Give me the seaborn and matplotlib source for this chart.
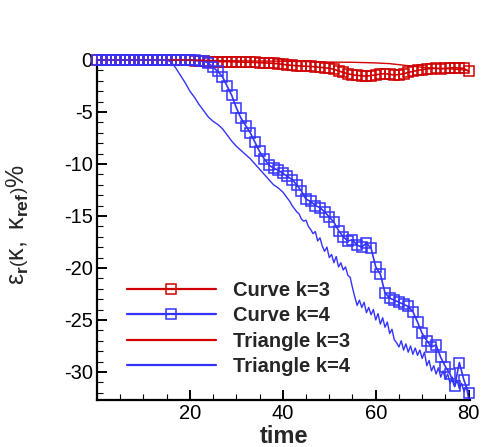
import matplotlib
matplotlib.use("Agg")
import matplotlib.pyplot as plt
from matplotlib.lines import Line2D
from matplotlib.ticker import MultipleLocator
import seaborn as sns

# ---------------- data ----------------
t_curve = list(range(0, 81))

curve_k3 = [0.0, 0.0, 0.0, 0.0, 0.0, 0.0, 0.0, 0.0, 0.0, 0.0,
            0.0, 0.0, 0.0, 0.0, 0.0, 0.0, 0.0, 0.0, 0.0, 0.0,
            -0.02, -0.05, -0.1, -0.12, -0.15, -0.15, -0.16, -0.15, -0.16, -0.17,
            -0.18, -0.2, -0.22, -0.22, -0.24, -0.26, -0.28, -0.3, -0.32, -0.36,
            -0.42, -0.48, -0.52, -0.55, -0.58, -0.6, -0.62, -0.66, -0.7, -0.75,
            -0.8, -0.9, -1.05, -1.2, -1.32, -1.42, -1.48, -1.52, -1.55, -1.5,
            -1.42, -1.36, -1.3, -1.38, -1.44, -1.4, -1.32, -1.2, -1.1, -1.0,
            -0.92, -0.86, -0.82, -0.8, -0.84, -0.8, -0.76, -0.74, -0.78, -0.8,
            -1.1]

curve_k4 = [0.0, 0.0, 0.0, 0.0, 0.0, 0.0, 0.0, 0.0, 0.0, 0.0,
            0.0, 0.0, 0.0, 0.0, 0.0, 0.0, 0.0, 0.0, 0.0, 0.0,
            0.0, 0.0, -0.05, -0.1, -0.3, -0.7, -1.1, -1.6, -2.5, -3.4,
            -4.6, -5.6, -6.3, -7.0, -7.9, -8.8, -9.5, -10.1, -10.4, -10.6,
            -10.9, -11.2, -11.5, -12.0, -12.6, -13.4, -13.6, -14.0, -14.2, -14.6,
            -15.1, -15.6, -16.4, -17.0, -17.4, -17.3, -17.8, -18.0, -17.6, -18.1,
            -19.9, -20.6, -22.4, -22.9, -23.1, -23.3, -23.5, -23.7, -24.2, -25.2,
            -26.3, -27.0, -27.6, -27.4, -28.6, -29.5, -30.2, -31.4, -29.1, -30.8,
            -32.0]

t_tri3 = [0, 20, 25, 30, 35, 40, 45, 50, 55, 60, 63, 66, 70, 73, 76, 80]
tri_k3 = [0.0, 0.0, -0.05, -0.08, -0.1, -0.12, -0.15, -0.2, -0.22, -0.28,
          -0.35, -0.5, -0.7, -0.8, -0.85, -1.0]

t_tri4 = [0, 15, 16, 17, 18, 19, 20, 21, 22, 23, 24, 25, 26, 27, 28, 29,
          30, 31, 32, 33, 34, 35, 36, 37, 38, 39, 40,
          40.5, 41, 41.5, 42, 42.5, 43, 43.5, 44, 44.5, 45, 45.5, 46, 46.5,
          47, 47.5, 48, 48.5, 49, 49.5, 50, 50.5, 51, 51.5, 52, 52.5, 53,
          53.5, 54, 54.5, 55, 55.5, 56, 56.5, 57, 57.5, 58, 58.5, 59, 59.5,
          60, 60.5, 61, 61.5, 62, 62.5, 63, 63.5, 64, 64.5, 65, 65.5, 66,
          66.5, 67, 67.5, 68, 68.5, 69, 69.5, 70, 70.5, 71, 71.5, 72, 72.5,
          73, 73.5, 74, 74.5, 75, 75.5, 76, 76.5, 77, 77.5, 78, 78.5, 79,
          79.5, 80]
tri_k4 = [0.0, 0.0, -0.2, -0.8, -1.5, -2.2, -3.0, -3.6, -4.3, -4.9, -5.5, -5.9,
          -6.2, -6.6, -7.2, -7.8, -8.3, -8.7, -9.1, -9.5, -10.0, -10.5, -11.0,
          -11.5, -12.0, -12.3, -12.7,
          -13.0, -13.3, -13.6, -14.0, -14.3, -14.6, -14.8, -15.3, -15.5, -15.4,
          -16.0, -16.3, -16.7, -16.5, -17.4, -17.1, -17.9, -18.4, -18.0, -19.0,
          -18.7, -19.5, -18.9, -19.9, -19.5, -20.2, -19.9, -20.7, -20.9, -21.9,
          -22.8, -23.6, -23.1, -23.8, -23.3, -24.3, -23.8, -24.5, -24.0, -25.0,
          -24.4, -25.4, -24.8, -25.7, -25.2, -26.3, -25.9, -26.9, -27.2, -27.6,
          -27.0, -27.9, -27.3, -28.1, -27.5, -28.3, -27.7, -28.4, -27.9, -28.7,
          -28.1, -29.4, -28.9, -29.9, -29.4, -30.2, -29.6, -30.5, -29.9, -30.7,
          -30.2, -31.1, -30.5, -31.4, -30.8, -31.6, -31.1, -31.9, -31.4, -32.6]

labels = ["Curve k=3", "Curve k=4", "Triangle k=3", "Triangle k=4"]
RED = "#D00000"
BLUE = "#3333FF"

# ---------------- style ----------------
sns.set_style("ticks")
plt.rcParams["font.family"] = ["Liberation Sans", "DejaVu Sans"]
plt.rcParams["axes.unicode_minus"] = False
plt.rcParams["mathtext.fontset"] = "custom"
plt.rcParams["mathtext.rm"] = "Liberation Sans"
plt.rcParams["mathtext.it"] = "Liberation Sans"
plt.rcParams["mathtext.bf"] = "Liberation Sans:bold"

fig = plt.figure(figsize=(4.99, 4.47), dpi=100)
ax = fig.add_axes([97 / 499, 1 - 400 / 447, (470 - 97) / 499, (400 - 60) / 447])

sns.lineplot(x=t_curve, y=curve_k3, ax=ax, color=RED, lw=1.2, marker="s",
             markersize=7.5, markerfacecolor="none", markeredgecolor=RED,
             markeredgewidth=1.1, clip_on=False, sort=False, zorder=3)
sns.lineplot(x=t_curve, y=curve_k4, ax=ax, color=BLUE, lw=1.2, marker="s",
             markersize=7.5, markerfacecolor="none", markeredgecolor=BLUE,
             markeredgewidth=1.1, clip_on=False, sort=False, zorder=4)
sns.lineplot(x=t_tri3, y=tri_k3, ax=ax, color=RED, lw=1.0, clip_on=False,
             sort=False, zorder=5)
sns.lineplot(x=t_tri4, y=tri_k4, ax=ax, color=BLUE, lw=1.0, clip_on=False,
             sort=False, zorder=5)

ax.set_xlim(0, 80.3)
ax.set_ylim(-32.7, 0)
ax.set_xticks([20, 40, 60, 80])
ax.xaxis.set_minor_locator(MultipleLocator(5))
ax.set_yticks([0, -5, -10, -15, -20, -25, -30])
ax.yaxis.set_minor_locator(MultipleLocator(1))
sns.despine(ax=ax)
for s in ("left", "bottom"):
    ax.spines[s].set_linewidth(1.6)
    ax.spines[s].set_color("black")
ax.tick_params(which="major", direction="in", length=7, width=1.4,
               labelsize=14.5, pad=3, colors="black")
ax.tick_params(which="minor", direction="in", length=4, width=0.8,
               colors="black")

ax.set_xlabel("time", fontsize=17, fontweight="bold", labelpad=1)
ax.set_ylabel(r"$\varepsilon_{\mathbf{r}}\left(\kappa,\ \kappa_{\mathbf{ref}}\right)$%",
              fontsize=18)
ax.yaxis.set_label_coords((31 - 97) / 373, (400 - 225) / 340)

handles = [
    Line2D([], [], color=RED, lw=1.6, marker="s", markersize=6.5,
           markerfacecolor="none", markeredgecolor=RED, markeredgewidth=1.1),
    Line2D([], [], color=BLUE, lw=1.6, marker="s", markersize=6.5,
           markerfacecolor="none", markeredgecolor=BLUE, markeredgewidth=1.1),
    Line2D([], [], color=RED, lw=1.6),
    Line2D([], [], color=BLUE, lw=1.6),
]
leg = ax.legend(handles, labels, loc="upper left",
                bbox_to_anchor=(127 / 499, 1 - 281 / 447),
                bbox_transform=fig.transFigure, frameon=False,
                prop={"weight": "bold", "size": 14.5}, handlelength=4.4,
                handletextpad=0.85, labelspacing=0.32, borderpad=0,
                borderaxespad=0, numpoints=1)

fig.savefig("out.png", dpi=100)
